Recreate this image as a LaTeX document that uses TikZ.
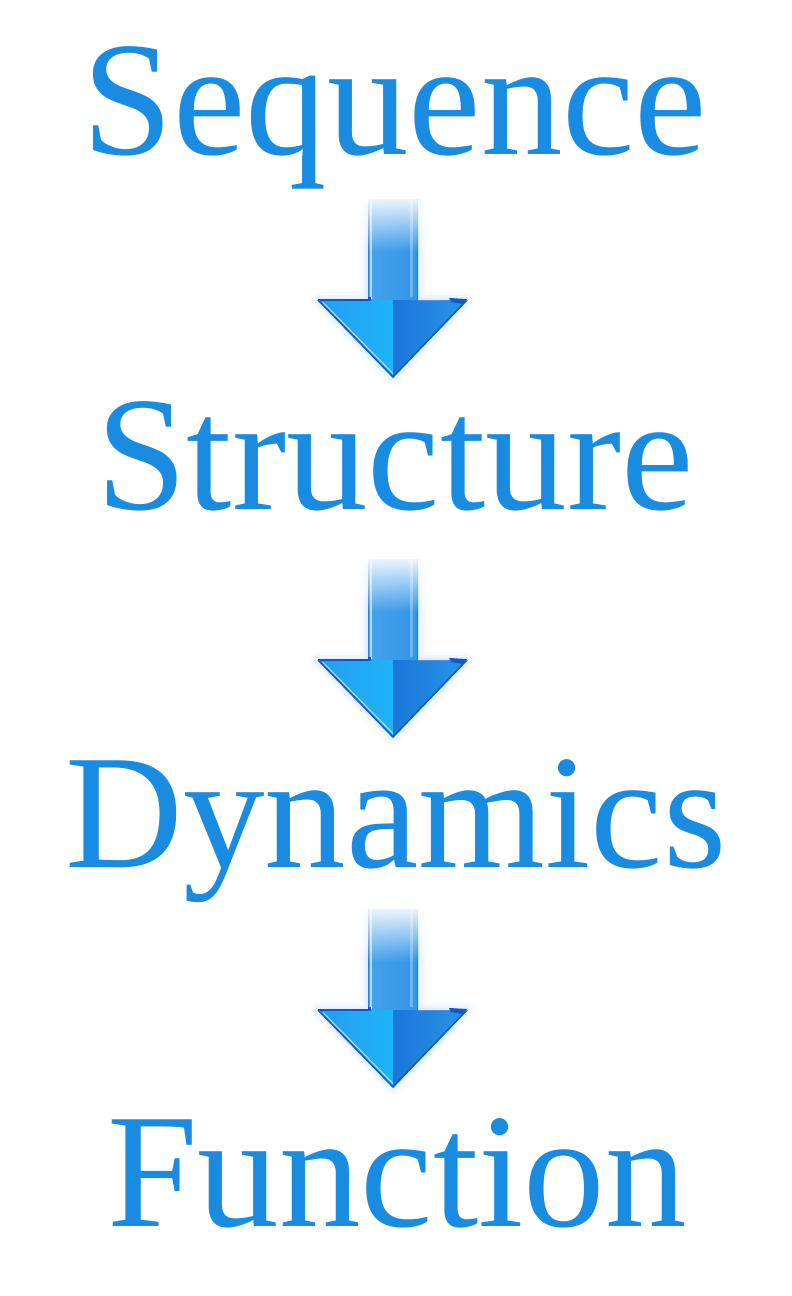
\documentclass[tikz,border=0pt]{standalone}
\usepackage{fontspec}
\setmainfont{Liberation Serif}
\usetikzlibrary{fadings,calc}
\definecolor{textblue}{RGB}{25,139,224}
\definecolor{shaftL}{RGB}{70,162,236}
\definecolor{shaftM}{RGB}{24,116,214}
\definecolor{shaftR}{RGB}{48,150,232}
\definecolor{headLa}{RGB}{38,156,238}
\definecolor{headLb}{RGB}{30,180,250}
\definecolor{headRa}{RGB}{26,118,216}
\definecolor{headRb}{RGB}{40,150,232}
\definecolor{edgeblue}{RGB}{16,88,200}
\definecolor{glowc}{RGB}{120,190,245}
\tikzfading[name=fadedown, top color=transparent!0, bottom color=transparent!100]
\tikzset{
  word/.style={anchor=base, inner sep=0pt, text=textblue,
    font=\fontsize{163}{175}\selectfont},
  glossyarrow/.pic={
    % soft glow
    \foreach \w/\o in {16/0.05,10/0.07,5/0.10}
      \draw[glowc, line width=\w pt, opacity=\o, line join=round]
        (-25,-178) -- (-25,-77) -- (-75,-77) -- (0,0) -- (74,-77) -- (25,-77) -- (25,-178);
    % shaft
    \shade[left color=shaftL, middle color=shaftM, right color=shaftR]
      (-25,-178) rectangle (25,-76);
    \fill[edgeblue, opacity=0.45] (-25,-178) rectangle (-24,-78);
    \fill[white, opacity=0.6] (-23.5,-178) rectangle (-21,-80);
    \fill[white, opacity=0.3] (17,-178) rectangle (20,-80);
    \fill[edgeblue, opacity=0.35] (24,-178) rectangle (25,-78);
    % head
    \shade[left color=headLa, right color=headLb]
      (-75,-77) -- (0,-77) -- (0,0) -- cycle;
    \shade[left color=headRa, right color=headRb]
      (0,-77) -- (74,-77) -- (0,0) -- cycle;
    \draw[edgeblue, line width=1.5pt, line join=round]
      (-75,-77) -- (0,0) -- (74,-77);
    \draw[white, opacity=0.7, line width=0.9pt] (-70,-74.5) -- (0,-3.5);
    \draw[edgeblue, line width=1.4pt] (-75,-77) -- (-25,-77);
    \draw[edgeblue!70, line width=1pt] (25,-77) -- (74,-77);
    \draw[white, opacity=0.8, line width=1.2pt] (-25,-79) -- (-21,-79);
    \fill[edgeblue] (56,-79) -- (74,-78) -- (70,-73) -- (58,-75) -- cycle;
    \fill[edgeblue] (-25,-80) -- (-22,-80) -- (-22,-76) -- (-25,-76) -- cycle;
    % fade the top of the shaft into the page
    \fill[white, path fading=fadedown] (-36,-184) rectangle (36,-125);
  }
}
\begin{document}
\begin{tikzpicture}[x=1pt,y=-1pt]
\useasboundingbox (0,0) rectangle (792,1296);
\fill[white] (0,0) rectangle (792,1296);
\node[word] (seq) at (395,154) {Sequence};
\node[word] (str) at (395,509) {Structure};
\node[word] (dyn) at (396,867) {Dynamics};
\node[word] (fun) at (397,1226) {Function};
\coordinate (t1) at ($(seq.base)+(-2,223)$);
\coordinate (t2) at ($(str.base)+(-2,228)$);
\coordinate (t3) at ($(dyn.base)+(-3,220)$);
\pic at (t1) {glossyarrow};
\pic at (t2) {glossyarrow};
\pic at (t3) {glossyarrow};
\end{tikzpicture}
\end{document}
